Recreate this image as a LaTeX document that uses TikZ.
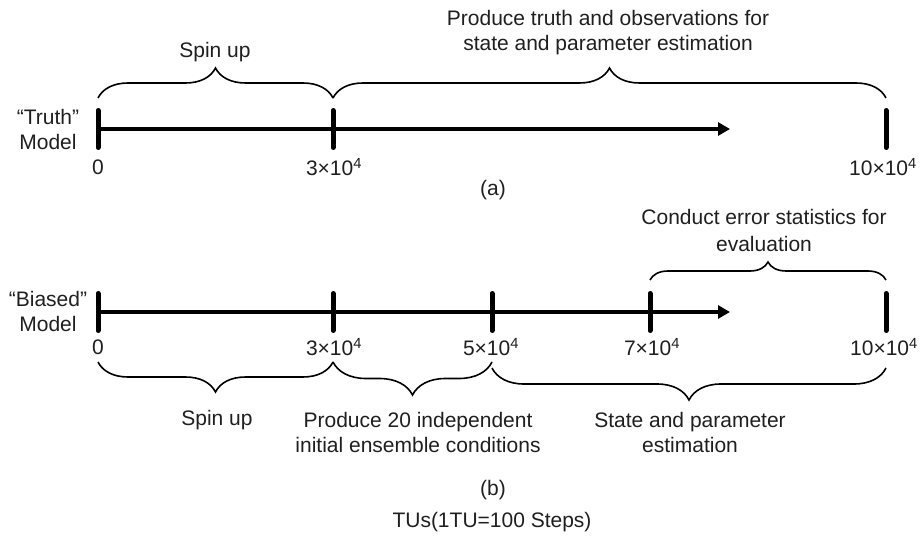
\documentclass[tikz,border=0pt]{standalone}
\usepackage{fontspec}
\setmainfont{Liberation Sans}
\usetikzlibrary{arrows.meta,decorations.pathreplacing,calc}
\begin{document}
\begin{tikzpicture}[x=1pt,y=-1pt,
  txt/.style={font=\fontsize{21}{25}\selectfont, inner sep=0pt, align=center, text=black!88},
  axisline/.style={line width=4.5pt, -{Triangle[length=12pt,width=13pt]}},
  tickmark/.style={line width=5pt, line cap=round},
  brc/.style={decorate, line width=1.6pt, decoration={brace, amplitude=#1}},
]
\useasboundingbox (0,0) rectangle (920,545);

% ---------- (a) truth model ----------
\coordinate (a0) at (98,129);
\coordinate (a3) at (333,129);
\coordinate (a10) at (886,129);
\coordinate (aend) at (730,129);

\draw[axisline] (a0) -- (aend);
\foreach \p in {a0,a3,a10}
  \draw[tickmark] ($(\p)+(0,-18.5)$) -- ($(\p)+(0,18.5)$);

\node[txt] (amodel) at (48,129) {“Truth”\\Model};
\node[txt] (la0) at (98,167) {0};
\node[txt] (la3) at (334,167) {3×10\textsuperscript{4}};
\node[txt] (la10) at (883,167) {10×10\textsuperscript{4}};

\draw[brc=30pt] ($(a0)+(0,-31)$) -- ($(a3)+(0,-31)$);
\draw[brc=30pt] ($(a3)+(0,-31)$) -- ($(a10)+(0,-31)$);
\node[txt] (aspin) at (215,52) {Spin up};
\node[txt] (aprod) at (608,33) {Produce truth and observations for\\state and parameter estimation};
\node[txt] (acap) at (493,190) {(a)};

% ---------- (b) biased model ----------
\coordinate (b0) at (98,312);
\coordinate (b3) at (333,312);
\coordinate (b5) at (492,312);
\coordinate (b7) at (650,312);
\coordinate (b10) at (886,312);
\coordinate (bend) at (730,312);

\draw[axisline] (b0) -- (bend);
\foreach \p in {b0,b3,b5,b7,b10}
  \draw[tickmark] ($(\p)+(0,-18.5)$) -- ($(\p)+(0,18.5)$);

\node[txt] (bmodel) at (48,311) {“Biased”\\Model};
\node[txt] (lb0) at (98,347) {0};
\node[txt] (lb3) at (334,347) {3×10\textsuperscript{4}};
\node[txt] (lb5) at (491,347) {5×10\textsuperscript{4}};
\node[txt] (lb7) at (652,347) {7×10\textsuperscript{4}};
\node[txt] (lb10) at (884,347) {10×10\textsuperscript{4}};

\draw[brc=18pt] ($(b7)+(0,-32)$) -- ($(b10)+(0,-32)$);
\node[txt, font=\fontsize{21}{27}\selectfont] (bcond) at (764,230) {Conduct error statistics for\\evaluation};

\draw[brc=30pt] ($(b3)+(0,50)$) -- ($(b0)+(0,50)$);
\draw[brc=33pt] ($(b5)+(0,50)$) -- ($(b3)+(0,50)$);
\draw[brc=32pt] ($(b10)+(0,56)$) -- ($(b5)+(0,56)$);

\node[txt] (bspin) at (217,420) {Spin up};
\node[txt] (bprod) at (418,432) {Produce 20 independent\\initial ensemble conditions};
\node[txt] (bstate) at (690,432) {State and parameter\\estimation};
\node[txt] (bcap) at (493,490) {(b)};
\node[txt] (units) at (492,522) {TUs(1TU=100 Steps)};
\end{tikzpicture}
\end{document}
